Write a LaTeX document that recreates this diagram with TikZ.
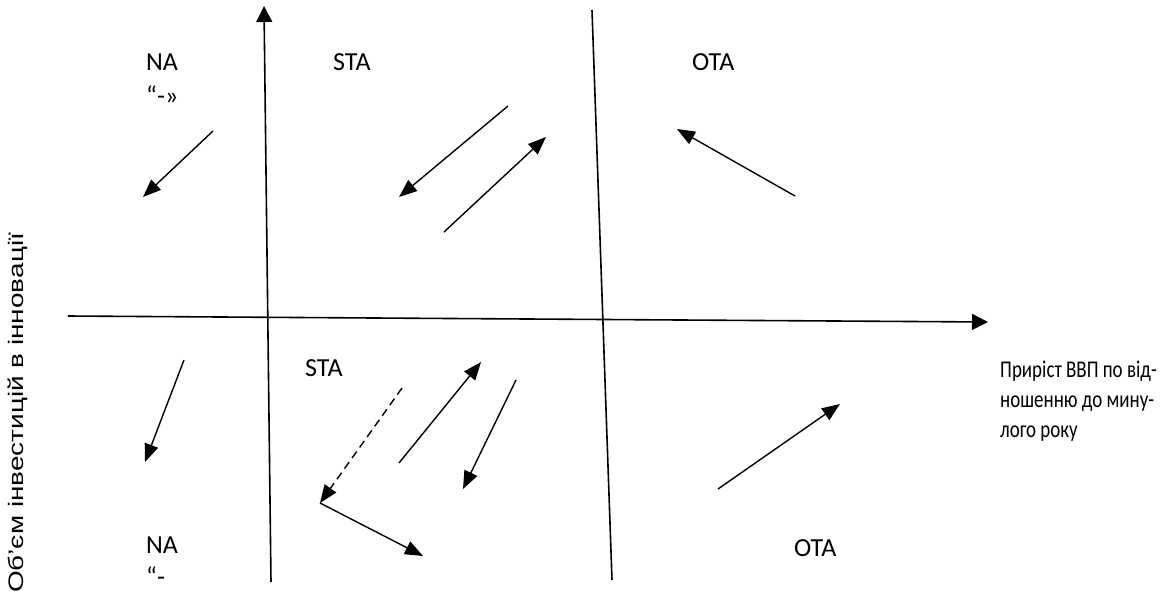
\documentclass[tikz,border=0pt]{standalone}
\usepackage{fontspec}
\usepackage{graphicx}
\setmainfont{Carlito}
\newfontfamily\axisfont{Liberation Sans}
\usetikzlibrary{arrows.meta}
\begin{document}
\begin{tikzpicture}[x=1pt,y=-1pt]
                \tikzset{
                    zone/.style={font=\fontsize{26}{30}\selectfont, inner sep=0pt, anchor=base west},
                    note/.style={font=\fontsize{24}{30}\selectfont, inner sep=0pt, anchor=base west},
                    axis/.style={line width=1.6pt},
                    arc/.style={line width=1.4pt, -{Triangle[length=18pt,width=14pt]}}
                }
                \useasboundingbox (0,0) rectangle (1168,595);

                % axes
                \coordinate (yb) at (271,582);
                \coordinate (yt) at (264,6);
                \coordinate (xl) at (68,316);
                \coordinate (xr) at (988,322);
                \coordinate (mt) at (592,10);
                \coordinate (mb) at (612,580);
                \draw[axis, -{Triangle[length=16pt,width=16pt]}] (yb) -- (yt);
                \draw[axis, -{Triangle[length=16pt,width=16pt]}] (xl) -- (xr);
                \draw[axis] (mt) -- (mb);

                % zone labels
                \draw node[zone] (na1) at (146,70) {NA};
                \draw node[zone] (na1q) at (146,104) {“-»};
                \draw node[zone] (sta1) at (333,70) {STA};
                \draw node[zone] (ota1) at (692,70) {OTA};
                \draw node[zone] (sta2) at (305,376) {STA};
                \draw node[zone] (na2) at (146,553) {NA};
                \draw node[zone] (na2q) at (146,585) {“-};
                \draw node[zone] (ota2) at (794,556) {OTA};

                \draw node[note] (gdp1) at (1000,377) {\scalebox{0.79}[1]{Приріст ВВП по від-}};
                \draw node[note] (gdp2) at (1000,407) {\scalebox{0.79}[1]{ношенню до мину-}};
                \draw node[note] (gdp3) at (1000,437) {\scalebox{0.79}[1]{лого року}};
                \draw node[rotate=90, font=\axisfont\fontsize{21}{24}\selectfont, inner sep=0pt] (inv) at (18,413) {\scalebox{1.33}[1]{Об’єм інвестицій в інновації}};

                % arrow ends
                \coordinate (a1) at (213,131); \coordinate (b1) at (143,197);
                \coordinate (a2) at (508,106); \coordinate (b2) at (399,197);
                \coordinate (a3) at (444,232); \coordinate (b3) at (546,137);
                \coordinate (a4) at (795,196); \coordinate (b4) at (677,129);
                \coordinate (a5) at (184,360); \coordinate (b5) at (145,462);
                \coordinate (a6) at (402,388); \coordinate (b6) at (320,503);
                \coordinate (b7) at (423,556);
                \coordinate (a8) at (399,463); \coordinate (b8) at (481,362);
                \coordinate (a9) at (516,380); \coordinate (b9) at (463,489);
                \coordinate (a10) at (718,489); \coordinate (b10) at (840,404);

                \foreach \x/\y in {%
                    a1/b1,a2/b2,a3/b3,a4/b4,a5/b5,b6/b7,a8/b8,a9/b9,a10/b10%
                }{
                \draw[arc] (\x) -- (\y);
                }
                \draw[arc, dash pattern=on 8pt off 5pt] (a6) -- (b6);
            \end{tikzpicture}
\end{document}
